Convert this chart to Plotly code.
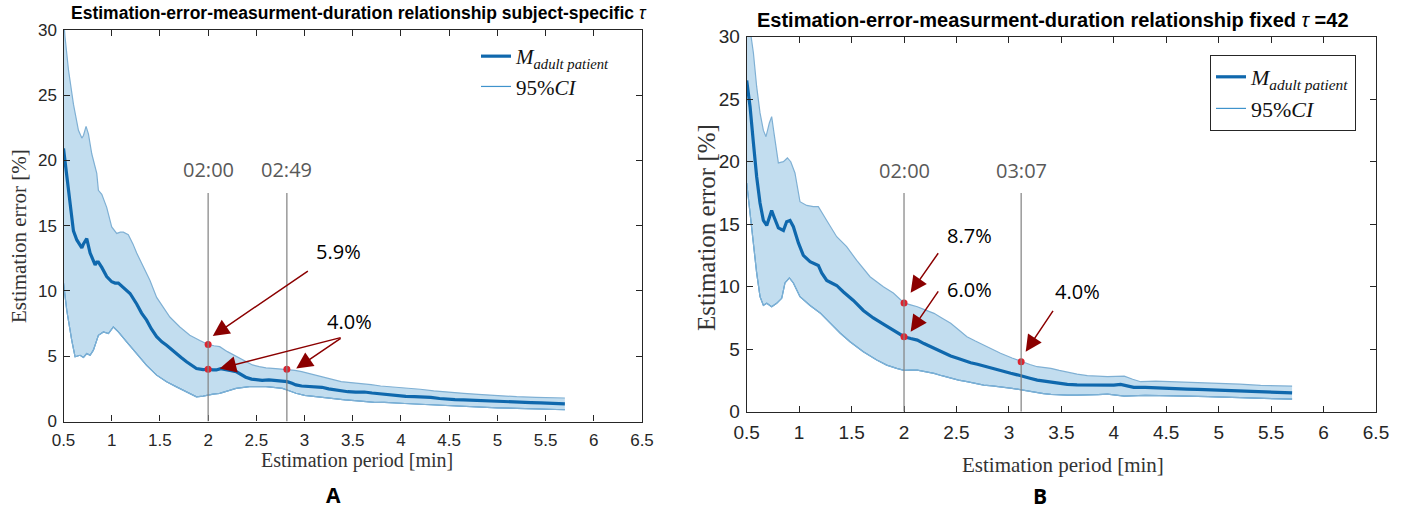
import plotly.graph_objects as go

W, H = 1405, 509

# ---------------- Panel A data (subject-specific tau) ----------------
a_mean_x = [0.5, 0.534, 0.569, 0.603, 0.638, 0.672, 0.69, 0.707, 0.741, 0.776, 0.81, 0.828, 0.845, 0.862, 0.897,
            0.948, 1.0, 1.035, 1.069, 1.1, 1.121, 1.19, 1.259, 1.31, 1.362, 1.41, 1.466, 1.52, 1.569, 1.62, 1.672,
            1.72, 1.776, 1.83, 1.879, 1.948, 2.0, 2.05, 2.085, 2.13, 2.19, 2.24, 2.29, 2.34, 2.39, 2.45, 2.5, 2.56,
            2.63, 2.7, 2.76, 2.82, 2.87, 2.91, 2.97, 3.04, 3.11, 3.18, 3.25, 3.32, 3.39, 3.45, 3.53, 3.62, 3.7, 3.79,
            3.88, 3.97, 4.05, 4.14, 4.22, 4.31, 4.4, 4.48, 4.56, 4.65, 4.75, 4.85, 4.95, 5.05, 5.15, 5.25, 5.35,
            5.45, 5.55, 5.62, 5.7]
a_mean_y = [20.9, 18.7, 16.4, 14.6, 13.9, 13.5, 13.3, 13.6, 14.0, 12.9, 12.3, 12.0, 12.2, 12.2, 11.8,
            11.1, 10.7, 10.6, 10.6, 10.4, 10.3, 9.8, 9.0, 8.3, 7.76, 7.1, 6.5, 6.1, 5.84, 5.5, 5.2,
            4.9, 4.57, 4.3, 4.06, 3.98, 4.0, 3.95, 3.95, 4.05, 4.0, 3.9, 3.82, 3.6, 3.39, 3.25, 3.18, 3.15,
            3.18, 3.12, 3.1, 3.05, 2.92, 2.8, 2.72, 2.67, 2.64, 2.62, 2.5, 2.41, 2.33, 2.28, 2.25, 2.26, 2.18, 2.11,
            2.03, 1.95, 1.93, 1.9, 1.88, 1.85, 1.76, 1.7, 1.68, 1.65, 1.63, 1.6, 1.55, 1.52, 1.5, 1.52, 1.45,
            1.42, 1.38, 1.4, 1.35]
a_up_x = [0.5, 0.515, 0.552, 0.603, 0.655, 0.69, 0.707, 0.734, 0.759, 0.793, 0.845, 0.862, 0.897, 0.948, 1.0,
          1.052, 1.09, 1.121, 1.172, 1.22, 1.259, 1.328, 1.397, 1.466, 1.534, 1.603, 1.707, 1.81, 1.914, 2.0,
          2.06, 2.12, 2.2, 2.29, 2.37, 2.46, 2.53, 2.6, 2.7, 2.82, 2.9, 2.97, 3.08, 3.18, 3.28, 3.38, 3.48, 3.59,
          3.69, 3.79, 3.9, 4.0, 4.1, 4.2, 4.34, 4.48, 4.56, 4.65, 4.8, 5.0, 5.2, 5.4, 5.55, 5.7]
a_up_y = [31.0, 29.5, 26.9, 24.3, 22.3, 21.7, 21.9, 22.6, 22.0, 20.5, 19.0, 17.7, 17.4, 16.4, 14.9,
          14.4, 14.5, 14.5, 14.3, 13.6, 12.9, 11.8, 10.8, 9.5, 8.8, 8.0, 7.24, 6.6, 6.2, 5.9,
          5.8, 5.73, 5.35, 5.0, 4.65, 4.33, 4.2, 4.1, 4.05, 4.0, 3.92, 3.82, 3.62, 3.44, 3.25, 3.05, 2.98, 2.92,
          2.82, 2.72, 2.66, 2.62, 2.52, 2.47, 2.35, 2.24, 2.2, 2.16, 2.08, 1.98, 1.9, 1.85, 1.83, 1.8]
a_lo_x = [0.5, 0.534, 0.586, 0.62, 0.672, 0.707, 0.741, 0.776, 0.81, 0.862, 0.914, 0.966, 1.017, 1.069, 1.155,
          1.259, 1.362, 1.466, 1.569, 1.672, 1.776, 1.879, 1.948, 2.0, 2.052, 2.12, 2.2, 2.29, 2.43, 2.6, 2.7,
          2.77, 2.84, 2.91, 3.0, 3.11, 3.22, 3.32, 3.42, 3.52, 3.62, 3.73, 3.83, 3.93, 4.04, 4.14, 4.24, 4.34,
          4.5, 4.65, 4.8, 5.0, 5.2, 5.4, 5.55, 5.7]
a_lo_y = [10.6, 8.5, 6.2, 4.95, 5.07, 4.9, 5.2, 5.07, 5.46, 6.6, 6.86, 6.73, 7.24, 6.86, 6.1,
          5.2, 4.3, 3.55, 3.04, 2.65, 2.27, 1.89, 1.94, 2.03, 2.1, 2.16, 2.35, 2.54, 2.67, 2.67, 2.6,
          2.54, 2.35, 2.16, 2.0, 1.9, 1.8, 1.72, 1.65, 1.6, 1.53, 1.47, 1.46, 1.44, 1.38, 1.34, 1.3, 1.26,
          1.2, 1.14, 1.1, 1.05, 1.0, 0.95, 0.93, 0.9]
a_mark_x = [2.0, 2.0, 2.8167]
a_mark_y = [5.9, 4.0, 4.0]
a_vlines = [2.0, 2.8167]
a_vlabels = ["02:00", "02:49"]

# ---------------- Panel B data (fixed tau = 42) ----------------
b_mean_x = [0.5, 0.532, 0.564, 0.595, 0.627, 0.659, 0.691, 0.716, 0.738, 0.76, 0.802, 0.85, 0.881, 0.913, 0.945,
            0.993, 1.04, 1.104, 1.183, 1.215, 1.263, 1.31, 1.358, 1.42, 1.517, 1.612, 1.707, 1.803, 1.898, 2.0,
            2.063, 2.127, 2.19, 2.254, 2.32, 2.38, 2.445, 2.51, 2.57, 2.636, 2.7, 2.76, 2.83, 2.89, 2.95, 3.017,
            3.08, 3.134, 3.2, 3.27, 3.33, 3.4, 3.48, 3.557, 3.65, 3.748, 3.85, 3.94, 4.0, 4.065, 4.13, 4.19, 4.3,
            4.4, 4.5, 4.6, 4.7, 4.8, 4.9, 5.0, 5.1, 5.2, 5.3, 5.4, 5.5, 5.6, 5.7]
b_mean_y = [26.5, 24.4, 21.5, 18.8, 16.7, 15.3, 14.9, 15.6, 16.1, 15.6, 14.7, 14.5, 15.2, 15.3, 14.8,
            13.5, 12.5, 12.0, 11.7, 11.1, 10.5, 10.3, 10.1, 9.6, 8.9, 8.1, 7.5, 7.0, 6.5, 6.0,
            5.85, 5.73, 5.45, 5.2, 4.9, 4.67, 4.45, 4.27, 4.1, 3.92, 3.8, 3.65, 3.5, 3.39, 3.22, 3.07,
            2.95, 2.8, 2.68, 2.53, 2.45, 2.35, 2.25, 2.19, 2.15, 2.13, 2.1, 2.08, 2.12, 2.19, 2.05, 1.95, 1.95,
            1.9, 1.85, 1.83, 1.8, 1.78, 1.75, 1.72, 1.7, 1.66, 1.62, 1.58, 1.55, 1.52, 1.5]
b_up_x = [0.5, 0.545, 0.564, 0.595, 0.627, 0.659, 0.684, 0.716, 0.738, 0.76, 0.802, 0.85, 0.888, 0.92, 0.96,
          1.008, 1.072, 1.135, 1.183, 1.263, 1.358, 1.453, 1.549, 1.676, 1.803, 1.898, 2.0, 2.063, 2.127, 2.2,
          2.286, 2.36, 2.445, 2.52, 2.6, 2.68, 2.76, 2.84, 2.92, 3.03, 3.134, 3.2, 3.27, 3.33, 3.4, 3.48, 3.557,
          3.65, 3.748, 3.85, 3.94, 4.02, 4.1, 4.18, 4.256, 4.4, 4.6, 4.8, 5.0, 5.2, 5.4, 5.55, 5.7]
b_up_y = [32.5, 30.0, 28.7, 26.0, 23.9, 22.5, 22.0, 23.1, 23.6, 22.3, 19.9, 20.0, 20.3, 20.0, 19.1,
          16.8, 16.5, 16.4, 16.4, 15.3, 14.0, 13.2, 12.1, 10.8, 10.0, 9.5, 8.7, 8.55, 8.4, 8.15,
          7.87, 7.5, 7.07, 6.55, 6.0, 5.65, 5.33, 5.0, 4.67, 4.3, 3.95, 3.78, 3.6, 3.52, 3.47, 3.3, 3.15,
          3.0, 2.88, 2.82, 2.8, 2.82, 2.85, 2.6, 2.4, 2.45, 2.4, 2.35, 2.3, 2.2, 2.1, 2.07, 2.05]
b_lo_x = [0.5, 0.532, 0.564, 0.595, 0.627, 0.659, 0.691, 0.738, 0.786, 0.834, 0.865, 0.907, 0.945, 1.008, 1.104,
          1.2, 1.294, 1.39, 1.485, 1.612, 1.74, 1.835, 1.93, 2.0, 2.063, 2.127, 2.2, 2.286, 2.36, 2.445, 2.52,
          2.6, 2.68, 2.76, 2.84, 2.92, 3.03, 3.134, 3.2, 3.27, 3.33, 3.4, 3.48, 3.557, 3.65, 3.748, 3.85, 3.94,
          4.02, 4.1, 4.3, 4.5, 4.7, 4.9, 5.1, 5.3, 5.5, 5.7]
b_lo_y = [18.3, 15.9, 13.2, 11.1, 9.2, 8.5, 8.67, 8.4, 8.67, 9.07, 10.3, 10.7, 10.3, 9.2, 8.5,
          7.9, 7.1, 6.3, 5.6, 4.8, 4.13, 3.73, 3.47, 3.3, 3.32, 3.33, 3.2, 3.07, 2.88, 2.67, 2.52,
          2.4, 2.25, 2.13, 2.06, 2.0, 1.87, 1.73, 1.62, 1.52, 1.45, 1.39, 1.35, 1.33, 1.33, 1.33, 1.37, 1.41,
          1.35, 1.25, 1.3, 1.3, 1.25, 1.2, 1.15, 1.1, 1.05, 1.0]
b_mark_x = [2.0, 2.0, 3.1167]
b_mark_y = [8.7, 6.0, 4.0]
b_vlines = [2.0, 3.1167]
b_vlabels = ["02:00", "03:07"]

x_ticks = [0.5, 1, 1.5, 2, 2.5, 3, 3.5, 4, 4.5, 5, 5.5, 6, 6.5]
x_ticklabels = ["0.5", "1", "1.5", "2", "2.5", "3", "3.5", "4", "4.5", "5", "5.5", "6", "6.5"]
y_ticks = [0, 5, 10, 15, 20, 25, 30]

# percent callouts: (label, label_x, label_y, [(tail_x, tail_y, tip_x, tip_y), ...])
a_callouts = [
    ("5.9%", 3.355, 13.05, [(3.05, 11.6, 2.048, 6.55)]),
    ("4.0%", 3.47, 7.64, [(3.39, 6.45, 2.12, 4.05), (3.39, 6.45, 2.914, 4.05)]),
]
b_callouts = [
    ("8.7%", 2.626, 14.06, [(2.336, 12.8, 2.063, 9.52)]),
    ("6.0%", 2.626, 9.74, [(2.336, 9.74, 2.063, 6.4)]),
    ("4.0%", 3.65, 9.6, [(3.43, 8.19, 3.16, 4.8)]),
]

# ---------------- styling ----------------
MEAN_C = "#0f68ad"
EDGE_C = "#7fb0d4"
FILL_C = "rgba(0,114,189,0.24)"
AX_C = "#262626"
RED = "#8b0000"
DOT = "#dc2430"
SANS = "Liberation Sans, Arial, sans-serif"
SERIF = "Liberation Serif, Times New Roman, serif"
CALLOUT_F = "Open Sans, Noto Sans, sans-serif"


def px(xp):
    return xp / W


def py(yp):
    return 1 - yp / H


fig = go.Figure()


def add_panel(xa, ya, legend, mx, my, ux, uy, lx, ly, mk_x, mk_y):
    # band polygon
    fig.add_trace(go.Scatter(x=ux + lx[::-1], y=uy + ly[::-1], fill="toself", fillcolor=FILL_C,
                             line=dict(width=0), mode="lines", hoverinfo="skip", showlegend=False,
                             xaxis=xa, yaxis=ya))
    fig.add_trace(go.Scatter(x=ux, y=uy, mode="lines", line=dict(color=EDGE_C, width=1.2),
                             showlegend=False, xaxis=xa, yaxis=ya))
    fig.add_trace(go.Scatter(x=lx, y=ly, mode="lines", line=dict(color="#3f93cc", width=1.2),
                             name="95%<i>CI</i>", legend=legend, legendrank=2, showlegend=True,
                             xaxis=xa, yaxis=ya))
    fig.add_trace(go.Scatter(x=lx, y=ly, mode="lines", line=dict(color=EDGE_C, width=1.2),
                             showlegend=False, xaxis=xa, yaxis=ya))
    fig.add_trace(go.Scatter(x=mx, y=my, mode="lines", line=dict(color=MEAN_C, width=3.2),
                             name="<i>M</i><sub><i>adult patient</i></sub>", legend=legend, legendrank=1,
                             xaxis=xa, yaxis=ya))
    fig.add_trace(go.Scatter(x=mk_x, y=mk_y, mode="markers", marker=dict(color=DOT, size=7),
                             showlegend=False, xaxis=xa, yaxis=ya))


add_panel("x", "y", "legend", a_mean_x, a_mean_y, a_up_x, a_up_y, a_lo_x, a_lo_y, a_mark_x, a_mark_y)
add_panel("x2", "y2", "legend2", b_mean_x, b_mean_y, b_up_x, b_up_y, b_lo_x, b_lo_y, b_mark_x, b_mark_y)

shapes = []
annotations = []


def panel_marks(xr, yr, vlines, vlabels, callouts, tsize, csize):
    for xv, lab in zip(vlines, vlabels):
        shapes.append(dict(type="line", xref=xr, yref=yr, x0=xv, x1=xv, y0=0, y1=17.5,
                           line=dict(color="#808080", width=1.2)))
        annotations.append(dict(xref=xr, yref=yr, x=xv, y=19.3, text=lab, showarrow=False,
                                font=dict(family=CALLOUT_F, size=tsize, color="#595959")))
    for lab, lx_, ly_, arrows in callouts:
        annotations.append(dict(xref=xr, yref=yr, x=lx_, y=ly_, text=lab, showarrow=False,
                                font=dict(family=CALLOUT_F, size=csize, color="#000000")))
        for tx, ty, hx, hy in arrows:
            annotations.append(dict(xref=xr, yref=yr, axref=xr, ayref=yr, x=hx, y=hy, ax=tx, ay=ty,
                                    text="", showarrow=True, arrowhead=2, arrowsize=2.2, arrowwidth=1.5,
                                    arrowcolor=RED, standoff=0, startstandoff=0))


panel_marks("x", "y", a_vlines, a_vlabels, a_callouts, 20, 20)
panel_marks("x2", "y2", b_vlines, b_vlabels, b_callouts, 20, 20)

# titles, axis labels, panel letters
annotations += [
    dict(xref="paper", yref="paper", x=px(359), y=py(13), xanchor="center", yanchor="middle", showarrow=False,
         text="<b>Estimation-error-measurment-duration relationship subject-specific </b><i>τ</i>",
         font=dict(family=SANS, size=17.5, color="#000")),
    dict(xref="paper", yref="paper", x=px(1053), y=py(20), xanchor="center", yanchor="middle", showarrow=False,
         text="<b>Estimation-error-measurment-duration relationship fixed </b><i>τ</i><b> =42</b>",
         font=dict(family=SANS, size=20, color="#000")),
    dict(xref="paper", yref="paper", x=px(19), y=py(236), xanchor="center", yanchor="middle", showarrow=False,
         text="Estimation error [%]", textangle=-90, font=dict(family=SERIF, size=21, color="#333")),
    dict(xref="paper", yref="paper", x=px(706), y=py(228), xanchor="center", yanchor="middle", showarrow=False,
         text="Estimation error [%]", textangle=-90, font=dict(family=SERIF, size=25, color="#333")),
    dict(xref="paper", yref="paper", x=px(357), y=py(460), xanchor="center", yanchor="middle", showarrow=False,
         text="Estimation period [min]", font=dict(family=SERIF, size=20, color="#333")),
    dict(xref="paper", yref="paper", x=px(1063), y=py(465), xanchor="center", yanchor="middle", showarrow=False,
         text="Estimation period [min]", font=dict(family=SERIF, size=21, color="#333")),
    dict(xref="paper", yref="paper", x=px(333), y=py(495), xanchor="center", yanchor="middle", showarrow=False,
         text="<b>A</b>", font=dict(family=CALLOUT_F, size=21, color="#000")),
    dict(xref="paper", yref="paper", x=px(1040), y=py(496), xanchor="center", yanchor="middle", showarrow=False,
         text="<b>B</b>", font=dict(family=CALLOUT_F, size=21, color="#000")),
]


def xaxis_style(domain, anchor, fsize):
    return dict(domain=domain, anchor=anchor, range=[0.5, 6.5], tickvals=x_ticks, ticktext=x_ticklabels,
                ticks="inside", ticklen=6, tickcolor=AX_C, showline=True, linecolor=AX_C, linewidth=1.2,
                mirror="ticks", showgrid=False, zeroline=False, automargin=False, ticklabelstandoff=3,
                tickfont=dict(family=SANS, size=fsize, color=AX_C))


def yaxis_style(domain, anchor, fsize):
    return dict(domain=domain, anchor=anchor, range=[0, 30], tickvals=y_ticks,
                ticks="inside", ticklen=6, tickcolor=AX_C, showline=True, linecolor=AX_C, linewidth=1.2,
                mirror="ticks", showgrid=False, zeroline=False, automargin=False, ticklabelstandoff=2,
                tickfont=dict(family=SANS, size=fsize, color=AX_C))


fig.update_layout(
    width=W, height=H, margin=dict(l=0, r=0, t=0, b=0, autoexpand=False),
    paper_bgcolor="white", plot_bgcolor="white",
    xaxis=xaxis_style([px(63.5), px(642)], "y", 17),
    yaxis=yaxis_style([py(421.5), py(29.7)], "x", 17),
    xaxis2=xaxis_style([px(746.7), px(1376)], "y2", 19),
    yaxis2=yaxis_style([py(411.7), py(36.7)], "x2", 19),
    legend=dict(x=px(476), y=py(36), xanchor="left", yanchor="top", bgcolor="white", borderwidth=0,
                font=dict(family=SERIF, size=21, color="#111"), tracegroupgap=0),
    legend2=dict(x=px(1210), y=py(55), xanchor="left", yanchor="top", bgcolor="white",
                 bordercolor=AX_C, borderwidth=1,
                 font=dict(family=SERIF, size=22, color="#111"), tracegroupgap=0),
    shapes=shapes, annotations=annotations,
)

fig.write_html("out.html", config={"displayModeBar": False},
               post_script="document.body.style.margin='0px';")
